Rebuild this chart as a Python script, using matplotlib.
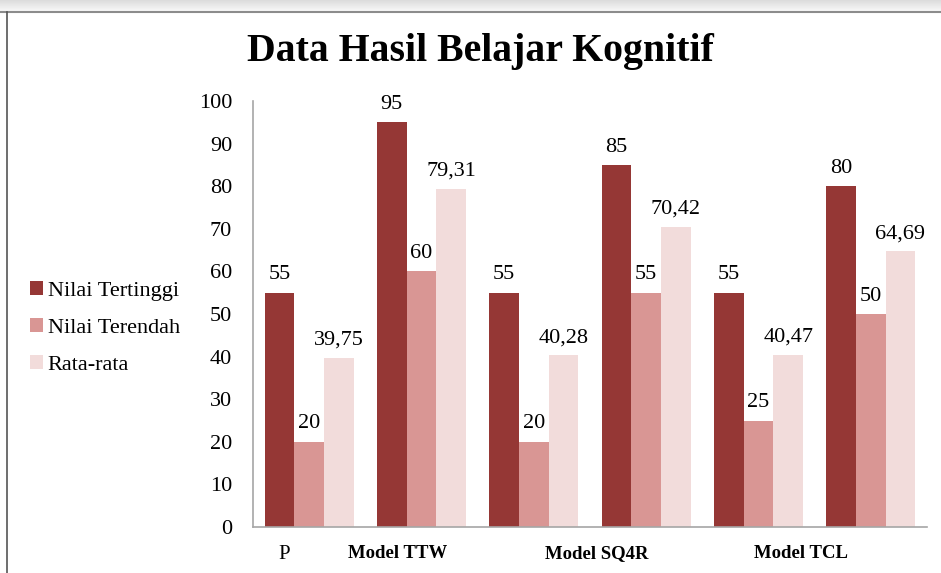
import numpy as np
import matplotlib.pyplot as plt
from matplotlib.lines import Line2D

# Data
series_names = ["Nilai Tertinggi", "Nilai Terendah", "Rata-rata"]
nilai_tertinggi = [55, 95, 55, 85, 55, 80]
nilai_terendah = [20, 60, 20, 55, 25, 50]
rata_rata = [39.75, 79.31, 40.28, 70.42, 40.47, 64.69]
tick_labels = ["P", "Model TTW", "Model SQ4R", "Model TCL"]
tick_pos = [-0.22, 0.79, 2.56, 4.38]

colors = ["#953735", "#D99694", "#F2DCDB"]
font = "Liberation Serif"
plt.rcParams["font.family"] = font

fig = plt.figure(figsize=(9.41, 5.73), dpi=100)
ax = fig.add_axes([253 / 941, 46 / 573, 674 / 941, 426 / 573])

x = np.arange(len(nilai_tertinggi))
w = 0.264
all_series = [nilai_tertinggi, nilai_terendah, rata_rata]
for i, (vals, name) in enumerate(zip(all_series, series_names)):
    bars = ax.bar(x + (i - 1) * w, vals, width=w, color=colors[i], label=name)
    for b, v in zip(bars, vals):
        txt = f"{v:g}".replace(".", ",")
        if isinstance(v, float):
            txt = f"{v:.2f}".replace(".", ",")
        ax.annotate(txt, (b.get_x() + b.get_width() / 2, v), xytext=(0, 6),
                    textcoords="offset points", ha="center", va="bottom",
                    fontsize=16)

ax.set_xlim(-0.5, 5.5)
ax.set_ylim(0, 100)
ax.set_yticks(range(0, 101, 10))
ax.tick_params(axis="y", length=0, pad=15, labelsize=16)
ax.set_xticks(tick_pos)
ax.set_xticklabels(tick_labels)
ax.tick_params(axis="x", length=0, pad=13)
for t in ax.get_xticklabels():
    if t.get_text() == "P":
        t.set_fontsize(15)
    else:
        t.set_fontsize(13.5)
        t.set_fontweight("bold")

for s in ["top", "right"]:
    ax.spines[s].set_visible(False)
for s in ["left", "bottom"]:
    ax.spines[s].set_color("#a6a6a6")
    ax.spines[s].set_linewidth(1.2)

fig.text(480 / 941, 1 - 52 / 573, "Data Hasil Belajar Kognitif", ha="center",
         va="center", fontsize=28.6, fontweight="bold")

fig.legend(loc="center left", bbox_to_anchor=(30 / 941, 1 - 328 / 573),
           frameon=False, fontsize=16, handlelength=0.6, handleheight=0.6,
           handletextpad=0.2, labelspacing=0.76, borderpad=0, borderaxespad=0)

# window frame decoration
band = fig.add_axes([0, 1 - 11 / 573, 1, 11 / 573])
grad = np.linspace(0.86, 0.97, 20).reshape(-1, 1)
band.imshow(grad, aspect="auto", cmap="gray", vmin=0, vmax=1)
band.axis("off")
fig.add_artist(Line2D([0, 1], [1 - 11.5 / 573] * 2, color="#8c8c8c", lw=1.5,
                      transform=fig.transFigure))
fig.add_artist(Line2D([7 / 941] * 2, [0, 1 - 11.5 / 573], color="#555555", lw=1.2,
                      transform=fig.transFigure))

plt.savefig("out.png", dpi=100)
plt.close()
